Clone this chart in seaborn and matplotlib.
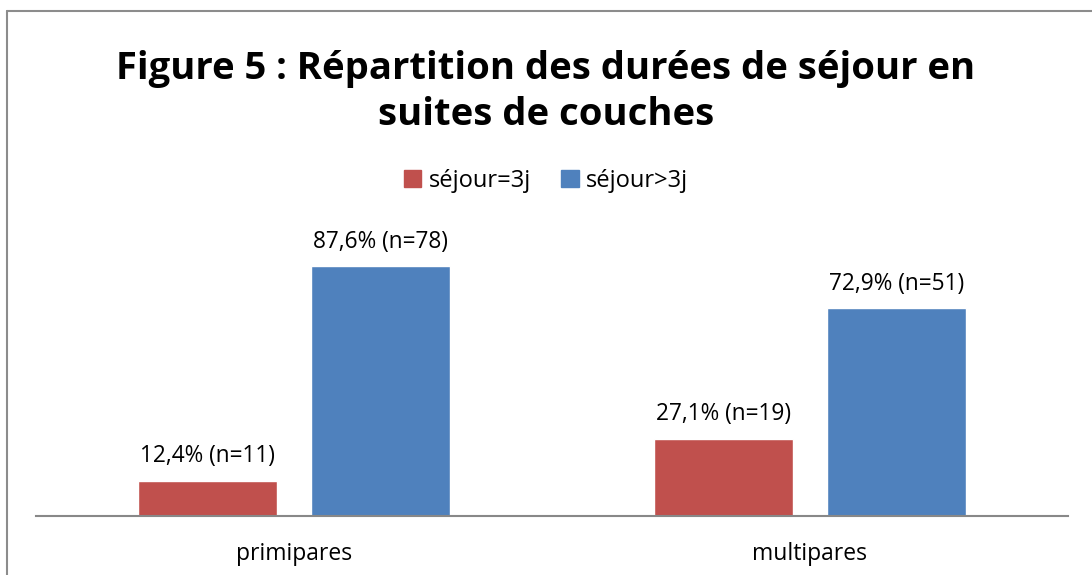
import matplotlib
matplotlib.use("Agg")
import matplotlib.pyplot as plt
import seaborn as sns
import pandas as pd
from matplotlib.patches import Rectangle
from matplotlib.lines import Line2D

categories = ["primipares", "multipares"]
series_names = ["séjour=3j", "séjour>3j"]
sejour_3j = [12.4, 27.1]
sejour_plus3j = [87.6, 72.9]
counts_3j = [11, 19]
counts_plus3j = [78, 51]
colors = ["#C0504D", "#4F81BD"]
title = "Figure 5 : Répartition des durées de séjour en\nsuites de couches"

sns.set_theme(style="white")
plt.rcParams['font.family'] = ['Open Sans', 'DejaVu Sans']
plt.rcParams['text.color'] = '#000000'

rows = []
for i, c in enumerate(categories):
    rows.append({"cat": c, "serie": series_names[0], "val": sejour_3j[i], "n": counts_3j[i]})
    rows.append({"cat": c, "serie": series_names[1], "val": sejour_plus3j[i], "n": counts_plus3j[i]})
df = pd.DataFrame(rows)

fig = plt.figure(figsize=(10.92, 5.75), dpi=100)
ax = fig.add_axes([36/1092, 59/575, 1032/1092, 285/575])

sns.barplot(data=df, x="cat", y="val", hue="serie", palette=colors,
            width=0.672, gap=0.2, ax=ax, legend=False, saturation=1)

ax.set_ylim(0, 100)
ax.set_xlim(-0.5, 1.5)
for s in ["top", "right", "left"]:
    ax.spines[s].set_visible(False)
ax.spines["bottom"].set_color("#888888")
ax.spines["bottom"].set_linewidth(1.5)
ax.set_yticks([])
ax.set_xlabel("")
ax.set_ylabel("")
ax.tick_params(axis="x", length=0, pad=19, labelsize=16.5, colors="#000000")

for container, vals, ns in zip(ax.containers, [sejour_3j, sejour_plus3j], [counts_3j, counts_plus3j]):
    labels = [f"{v:.1f}".replace(".", ",") + f"% (n={n})" for v, n in zip(vals, ns)]
    ax.bar_label(container, labels=labels, padding=9, fontsize=16.3, color="#000000")

fig.text(0.5, 1 - 92/575, title, ha="center", va="center", fontsize=27.5,
         fontweight="bold", linespacing=1.3, color="#000000")

handles = [Rectangle((0, 0), 1, 1, color=c) for c in colors]
fig.legend(handles, series_names, loc="center", bbox_to_anchor=(0.5, 1 - 181/575),
           ncol=2, frameon=False, fontsize=17, handlelength=0.75, handleheight=0.75,
           handletextpad=0.3, columnspacing=1.3, labelcolor="#000000")

# outer frame
fig.add_artist(Line2D([7/1092, 7/1092], [0, 1 - 11/575], transform=fig.transFigure,
                      color="#8c8c8c", linewidth=1.5))
fig.add_artist(Line2D([7/1092, 1], [1 - 11/575, 1 - 11/575], transform=fig.transFigure,
                      color="#8c8c8c", linewidth=1.5))

fig.savefig("out.png", dpi=100)
